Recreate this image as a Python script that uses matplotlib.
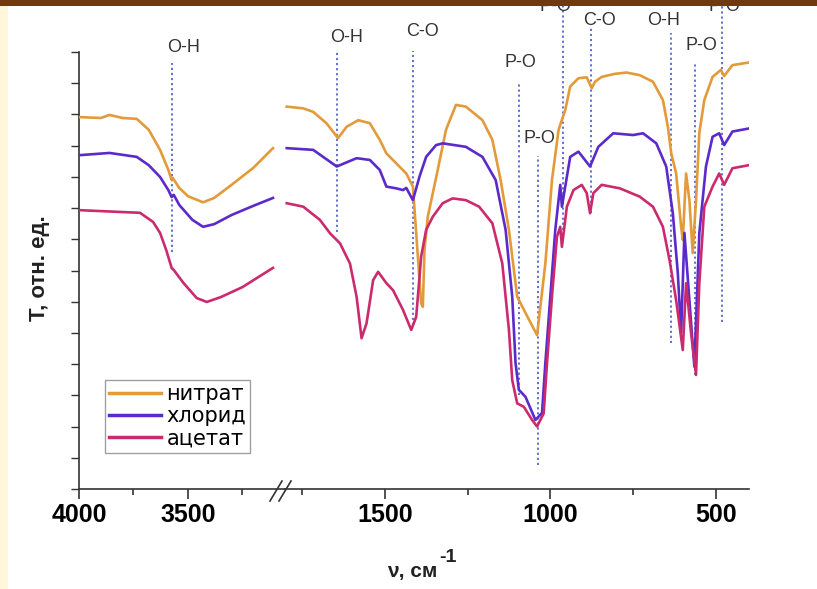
import numpy as np
import matplotlib
matplotlib.use("Agg")
import matplotlib.pyplot as plt
from matplotlib.patches import Rectangle
from matplotlib.lines import Line2D

# ---------------- data ----------------
series_names = ["нитрат", "хлорид", "ацетат"]
series_colors = ["#E39A3B", "#5B2ACB", "#CB2B6E"]

# high-wavenumber segment (cm-1) and transmittance (arb. units)
nitrate_hi_w = [3995, 3900, 3860, 3800, 3735, 3680, 3628, 3590, 3575, 3570, 3540, 3500, 3431, 3380, 3300, 3200, 3110]
nitrate_hi_t = [85.1, 84.9, 85.6, 84.9, 84.7, 82.2, 77.6, 73.0, 70.7, 71.2, 68.9, 67.0, 65.6, 66.6, 69.6, 73.5, 78.0]
chloride_hi_w = [3995, 3860, 3735, 3680, 3628, 3590, 3575, 3565, 3540, 3480, 3431, 3380, 3300, 3200, 3110]
chloride_hi_t = [76.4, 76.9, 76.0, 74.1, 71.4, 68.4, 66.8, 67.3, 65.0, 61.6, 60.0, 60.6, 62.7, 64.8, 66.6]
acetate_hi_w = [3995, 3720, 3660, 3628, 3600, 3575, 3565, 3520, 3460, 3414, 3350, 3250, 3110]
acetate_hi_t = [63.8, 63.2, 61.1, 58.6, 54.7, 50.6, 50.1, 47.1, 43.7, 42.8, 43.9, 46.2, 50.6]

# low-wavenumber segment
nitrate_lo_w = [1796, 1746, 1716, 1676, 1641, 1615, 1580, 1545, 1515, 1495, 1465, 1435, 1415, 1400, 1390,
                1385, 1380, 1370, 1345, 1315, 1285, 1255, 1205, 1175, 1150, 1125, 1100, 1075, 1040, 1015,
                995, 975, 955, 940, 915, 890, 875, 865, 845, 805, 770, 730, 690, 660, 645,
                635, 620, 605, 600, 590, 580, 570, 560, 550, 535, 510, 485, 475, 450, 400]
nitrate_lo_t = [87.5, 87.1, 86.3, 83.7, 80.3, 82.9, 84.4, 83.7, 79.9, 76.8, 74.5, 72.2, 69.2, 53.2, 42.5,
                41.7, 54.7, 62.3, 71.2, 82.2, 87.9, 87.5, 84.4, 79.9, 70.7, 59.3, 44.0, 40.3, 35.2, 51.6,
                70.7, 82.2, 86.7, 92.1, 94.0, 94.2, 91.7, 93.2, 94.3, 95.0, 95.3, 94.7, 93.2, 89.0, 82.9,
                76.9, 72.2, 60.0, 57.0, 72.2, 66.1, 54.0, 66.1, 81.5, 89.0, 94.3, 95.9, 94.5, 97.0, 97.6]
chloride_lo_w = [1796, 1716, 1645, 1585, 1545, 1515, 1495, 1465, 1445, 1435, 1415, 1395, 1375, 1345, 1325,
                 1255, 1205, 1165, 1135, 1115, 1105, 1095, 1075, 1045, 1025, 1015, 1000, 985, 970, 965,
                 940, 915, 880, 855, 810, 750, 720, 680, 650, 630, 615, 605, 595, 580, 565,
                 550, 530, 510, 490, 475, 450, 400]
chloride_lo_t = [78.0, 77.6, 73.8, 75.7, 75.3, 73.0, 69.2, 68.8, 68.4, 68.9, 66.1, 71.5, 76.0, 78.7, 79.1,
                 78.3, 76.0, 70.7, 59.3, 44.0, 28.8, 22.7, 21.1, 15.8, 17.4, 28.8, 44.0, 59.3, 69.6, 64.6,
                 76.0, 77.2, 73.8, 78.3, 81.4, 81.0, 81.4, 79.1, 73.8, 63.1, 49.4, 35.7, 58.6, 43.2, 28.0,
                 58.6, 73.8, 80.6, 81.4, 78.7, 81.8, 82.5]
acetate_lo_w = [1796, 1746, 1696, 1665, 1635, 1605, 1585, 1570, 1555, 1535, 1520, 1495, 1475, 1445, 1420,
                1405, 1390, 1375, 1355, 1325, 1295, 1255, 1215, 1175, 1145, 1125, 1115, 1100, 1080, 1055,
                1040, 1020, 1010, 995, 980, 970, 965, 950, 930, 905, 890, 880, 870, 845, 790,
                730, 690, 660, 640, 620, 600, 590, 575, 560, 550, 535, 510, 490, 475, 450, 400]
acetate_lo_t = [65.4, 64.6, 61.6, 58.5, 56.2, 51.6, 44.0, 34.5, 37.9, 47.8, 49.7, 47.1, 45.5, 41.0, 36.4,
                39.4, 53.2, 59.3, 62.3, 65.4, 66.5, 66.1, 64.6, 60.8, 51.6, 36.4, 24.9, 19.6, 18.8, 15.8,
                14.3, 17.3, 28.8, 44.0, 57.7, 60.0, 55.4, 64.6, 68.4, 69.6, 67.7, 63.1, 67.7, 69.6, 68.8,
                66.9, 64.6, 60.0, 52.4, 43.2, 31.8, 47.1, 35.7, 26.1, 47.1, 64.6, 69.2, 72.2, 69.6, 73.4, 74.1]

# band assignments
band_labels = ["O-H", "O-H", "C-O", "P-O", "P-O", "P-O", "C-O", "O-H", "P-O", "P-O"]
band_wavenumbers = [3575, 1645, 1415, 1096, 1038, 963, 877, 636, 563, 481]

# x tick labels
hi_major_ticks = [4000, 3500]
hi_minor_ticks = [3750, 3250]
lo_major_ticks = [1500, 1000, 500]
lo_minor_ticks = [1750, 1250, 750]

# ---------------- layout ----------------
W, H = 817, 589
def fx(px):
    return px / W
def fy(py):
    return 1 - py / H

# marker line extents and label positions (layout)
marker_top = [97.5, 100.5, 100.2, 93.1, 76.2, 110.8, 105.5, 104.3, 97.5, 111.4]
marker_bottom = [54.2, 58.8, 37.5, 21.5, 5.5, 57.0, 63.2, 33.4, 26.1, 38.2]
label_x = [3518, 1614, 1386, 1090, 1033, 985, 852, 657, 545, 475]
label_y = [101.0, 103.4, 104.6, 97.7, 80.3, 110.3, 107.3, 107.3, 101.4, 110.3]

fig = plt.figure(figsize=(W / 100, H / 100), dpi=100)
fig.patch.set_facecolor("white")

x_split = 285.4
ax_hi = fig.add_axes([fx(79), fy(489), fx(x_split) - fx(79), fy(52) - fy(489)])
ax_lo = fig.add_axes([fx(x_split), fy(489), fx(749) - fx(x_split), fy(52) - fy(489)], sharey=ax_hi)
for ax in (ax_hi, ax_lo):
    ax.set_facecolor("none")

hi_data = [(nitrate_hi_w, nitrate_hi_t), (chloride_hi_w, chloride_hi_t), (acetate_hi_w, acetate_hi_t)]
lo_data = [(nitrate_lo_w, nitrate_lo_t), (chloride_lo_w, chloride_lo_t), (acetate_lo_w, acetate_lo_t)]

handles = []
for (w, t), c in zip(hi_data, series_colors):
    ax_hi.plot(w, t, color=c, lw=1.9, solid_joinstyle="round", zorder=3)
for (w, t), c, name in zip(lo_data, series_colors, series_names):
    ln, = ax_lo.plot(w, t, color=c, lw=1.9, solid_joinstyle="round", zorder=3, label=name)
    handles.append(ln)

ax_hi.set_xlim(4000, 3053)
ax_lo.set_xlim(1800, 400)
ax_hi.set_ylim(0, 100)

axis_col = "#333333"
for ax in (ax_hi, ax_lo):
    ax.spines["top"].set_visible(False)
    ax.spines["right"].set_visible(False)
    ax.spines["bottom"].set_linewidth(1.2)
    ax.spines["bottom"].set_color(axis_col)
ax_hi.spines["left"].set_linewidth(1.2)
ax_hi.spines["left"].set_color(axis_col)
ax_lo.spines["left"].set_visible(False)

ax_hi.set_xticks(hi_major_ticks)
ax_hi.set_xticks(hi_minor_ticks, minor=True)
ax_lo.set_xticks(lo_major_ticks)
ax_lo.set_xticks(lo_minor_ticks, minor=True)
ax_hi.set_yticks(np.linspace(0, 100, 15))

tick_font = dict(family="Liberation Sans", weight="bold", size=18)
for ax in (ax_hi, ax_lo):
    ax.tick_params(axis="x", which="major", direction="out", length=7, width=1.2, color=axis_col, pad=3)
    ax.tick_params(axis="x", which="minor", direction="out", length=4, width=1.2, color=axis_col)
    ax.set_xticklabels([str(v) for v in ax.get_xticks()], fontdict=tick_font)
ax_hi.tick_params(axis="y", which="major", direction="out", length=6, width=1.0, color=axis_col, labelleft=False)
ax_lo.tick_params(axis="y", left=False, labelleft=False)

# band markers
dot_col = "#5566CC"
for i, (lab, w) in enumerate(zip(band_labels, band_wavenumbers)):
    ax = ax_hi if w > 2500 else ax_lo
    ax.plot([w, w], [marker_bottom[i], marker_top[i]], color=dot_col, lw=1.3,
            linestyle=(0, (1.2, 1.6)), clip_on=False, zorder=2)
    ax.text(label_x[i], label_y[i], lab, ha="center", va="center", fontsize=13,
            family="Liberation Sans", color="#333333", clip_on=False, zorder=4)

# axis break marks
for dx in (0, 9):
    fig.add_artist(Line2D([fx(270 + dx), fx(282 + dx)], [fy(501), fy(481)],
                          color=axis_col, lw=1.2))

# axis titles
fig.text(fx(40), fy(268), "T, отн. ед.", rotation=90, ha="center", va="center",
         fontsize=16, fontweight="bold", family="Liberation Sans", color="#222222")
fig.text(fx(437), fy(572), "ν, см", ha="right", va="center",
         fontsize=15, fontweight="bold", family="Liberation Sans", color="#222222")
fig.text(fx(439), fy(557), "-1", ha="left", va="center",
         fontsize=14, fontweight="bold", family="Liberation Sans", color="#222222")

# legend
leg = fig.legend(handles, series_names, loc="upper left",
                 bbox_to_anchor=(fx(105), fy(380)), bbox_transform=fig.transFigure,
                 frameon=True, fancybox=False, borderaxespad=0,
                 prop={"family": "DejaVu Sans", "size": 15},
                 handlelength=2.5, handletextpad=0.25, borderpad=0.2, labelspacing=0.1)
leg.get_frame().set_edgecolor("#888888")
leg.get_frame().set_linewidth(1.0)
for lh in leg.get_lines():
    lh.set_linewidth(2.5)

# page decoration: cream strip on the left and brown bar on top
fig.add_artist(Rectangle((0, 0), fx(8), 1, transform=fig.transFigure,
                         facecolor="#FFF6DC", edgecolor="none", zorder=0))
fig.add_artist(Rectangle((0, fy(6)), 1, fy(0) - fy(6), transform=fig.transFigure,
                         facecolor="#6E3A12", edgecolor="none", zorder=10))

fig.savefig("out.png", dpi=100)
